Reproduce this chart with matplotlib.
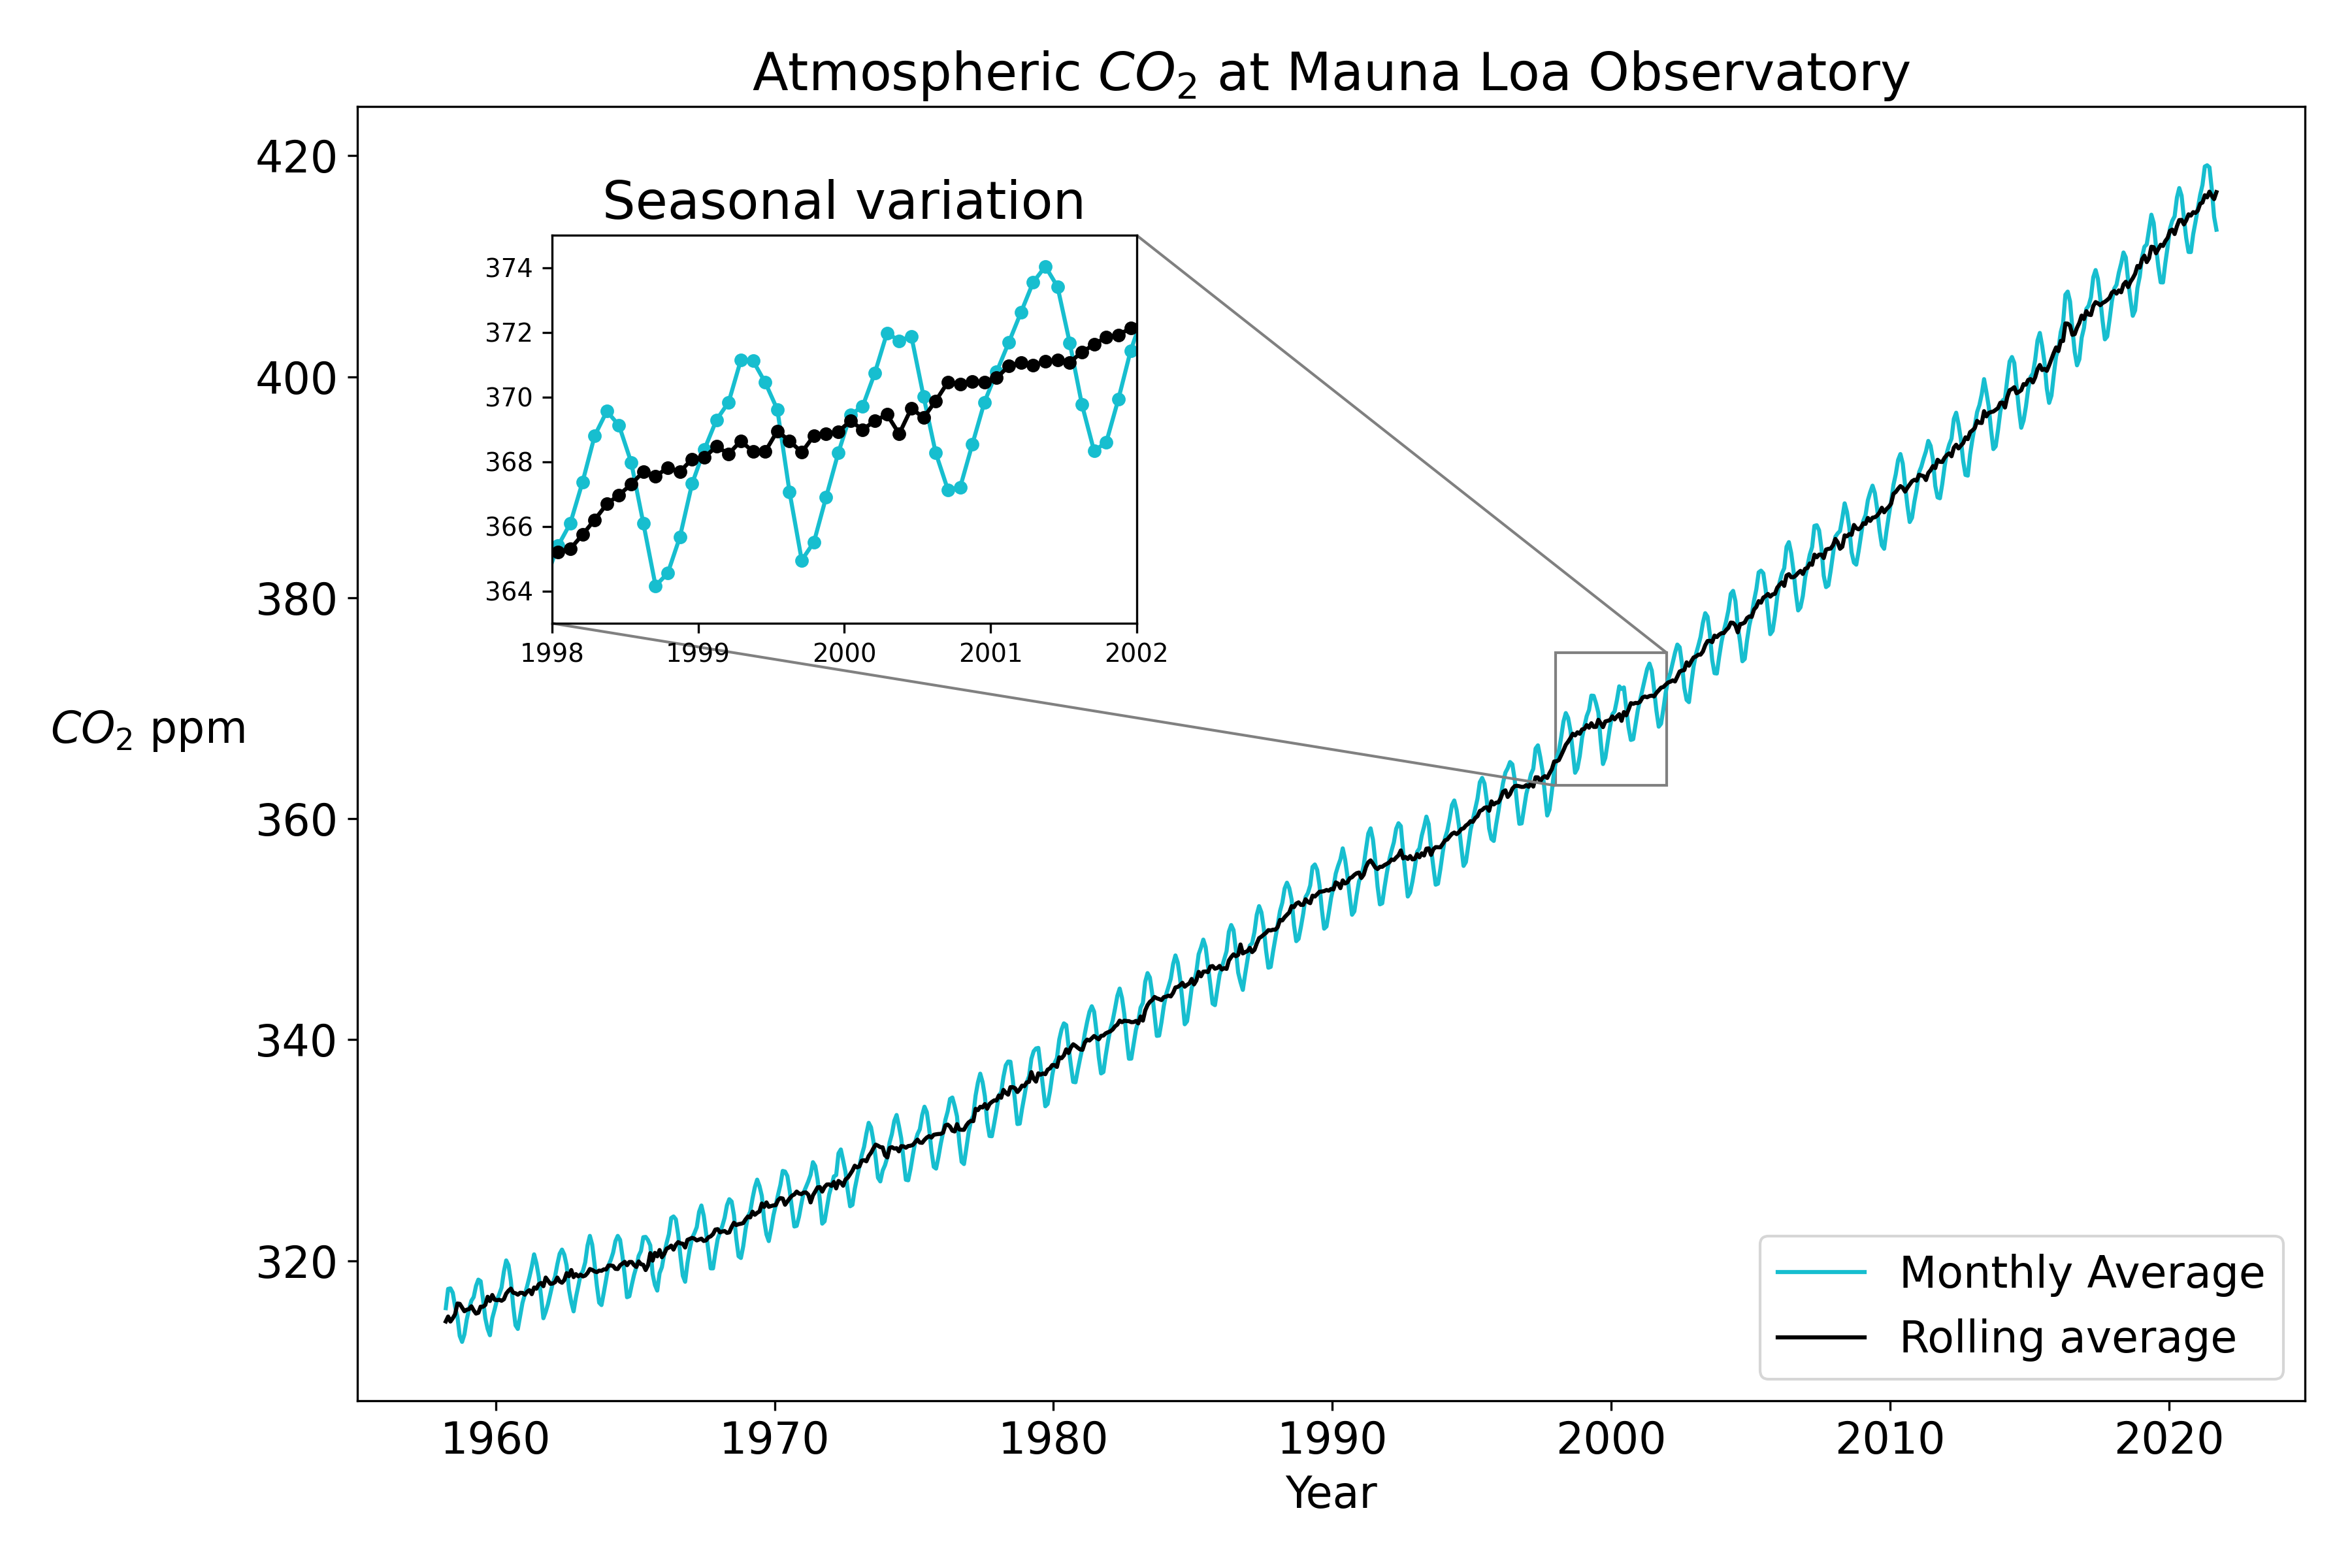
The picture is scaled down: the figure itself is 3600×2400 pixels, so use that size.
import numpy as np
import matplotlib
matplotlib.use("Agg")
import matplotlib.pyplot as plt
from mpl_toolkits.axes_grid1.inset_locator import mark_inset

# Mauna Loa CO2, monthly values starting March 1958
start_year = 1958
start_month = 3

monthly_avg = [
    315.71, 317.45, 317.50, 317.10, 315.86, 314.93, 313.20, 312.66, 313.33, 314.67,  # 1958
    315.62, 316.38, 316.71, 317.72, 318.29, 318.15, 316.54, 314.80, 313.84, 313.26, 314.80, 315.58,
    316.43, 316.97, 317.58, 319.02, 320.03, 319.59, 318.18, 315.91, 314.16, 313.83, 315.00, 316.19,
    316.93, 317.70, 318.54, 319.48, 320.58, 319.77, 318.57, 316.79, 314.80, 315.38, 316.10, 317.01,
    317.94, 318.56, 319.68, 320.63, 321.01, 320.55, 319.58, 317.40, 316.26, 315.42, 316.69, 317.69,
    318.74, 319.08, 319.86, 321.39, 322.25, 321.47, 319.74, 317.77, 316.21, 315.99, 317.12, 318.31,
    319.57, 320.07, 320.73, 321.77, 322.25, 321.89, 320.44, 318.70, 316.70, 316.79, 317.79, 318.71,
    319.44, 320.44, 320.89, 322.13, 322.16, 321.87, 321.39, 318.81, 317.81, 317.30, 318.87, 319.42,
    320.62, 321.59, 322.39, 323.87, 324.01, 323.75, 322.39, 320.37, 318.64, 318.10, 319.79, 321.08,
    322.07, 322.50, 323.04, 324.42, 325.00, 324.09, 322.55, 320.92, 319.31, 319.31, 320.72, 321.96,
    322.57, 323.15, 323.89, 325.02, 325.57, 325.36, 324.14, 322.03, 320.41, 320.25, 321.31, 322.84,
    324.00, 324.42, 325.64, 326.66, 327.34, 326.76, 325.88, 323.67, 322.38, 321.78, 322.85, 324.11,
    325.03, 325.99, 326.87, 328.13, 328.07, 327.66, 326.35, 324.69, 323.10, 323.16, 323.98, 325.13,  # 1970
    326.17, 326.68, 327.18, 327.78, 328.92, 328.57, 327.34, 325.46, 323.36, 323.57, 324.80, 326.01,
    326.77, 327.63, 327.75, 329.72, 330.07, 329.09, 328.05, 326.32, 324.93, 325.06, 326.50, 327.55,
    328.54, 329.56, 330.30, 331.50, 332.48, 332.07, 330.87, 329.31, 327.51, 327.18, 328.16, 328.64,
    329.35, 330.71, 331.48, 332.65, 333.19, 332.20, 331.07, 329.15, 327.33, 327.28, 328.31, 329.58,
    330.73, 331.46, 331.90, 333.17, 333.94, 333.45, 331.98, 329.95, 328.50, 328.34, 329.37, 330.58,
    331.59, 332.75, 333.52, 334.64, 334.77, 334.00, 333.06, 330.68, 328.95, 328.75, 330.15, 331.62,
    332.66, 333.13, 334.95, 336.13, 336.93, 336.17, 334.88, 332.56, 331.29, 331.27, 332.41, 333.60,
    334.95, 335.25, 336.66, 337.69, 338.03, 338.01, 336.41, 334.41, 332.37, 332.41, 333.75, 334.90,
    336.14, 336.69, 338.27, 338.96, 339.21, 339.26, 337.54, 335.75, 333.98, 334.19, 335.31, 336.81,
    337.90, 338.34, 340.01, 340.93, 341.48, 341.33, 339.40, 337.70, 336.19, 336.15, 337.27, 338.32,  # 1980
    339.29, 340.55, 341.61, 342.53, 343.03, 342.54, 340.78, 338.44, 336.95, 337.08, 338.58, 339.88,
    340.96, 341.73, 342.81, 343.97, 344.63, 343.79, 342.32, 340.09, 338.28, 338.29, 339.60, 340.90,
    341.68, 342.90, 343.33, 345.25, 346.03, 345.63, 344.19, 342.27, 340.35, 340.38, 341.59, 343.05,
    344.10, 344.79, 345.52, 346.84, 347.63, 346.98, 345.53, 343.55, 341.40, 341.67, 343.10, 344.70,
    345.21, 346.16, 347.74, 348.34, 349.06, 348.38, 346.72, 345.02, 343.27, 343.13, 344.49, 345.88,
    346.56, 347.28, 348.01, 349.77, 350.38, 349.93, 348.16, 346.08, 345.22, 344.51, 345.93, 347.22,
    348.52, 348.73, 349.73, 351.31, 352.09, 351.53, 350.11, 348.08, 346.52, 346.59, 347.96, 349.16,
    350.39, 351.64, 352.40, 353.69, 354.21, 353.72, 352.69, 350.40, 348.92, 349.13, 350.20, 351.41,
    352.91, 353.27, 353.96, 355.64, 355.86, 355.37, 353.99, 351.81, 350.05, 350.25, 351.49, 352.85,
    353.80, 355.04, 355.73, 356.32, 357.32, 356.34, 354.84, 353.01, 351.31, 351.62, 353.07, 354.33,  # 1990
    354.84, 355.73, 357.23, 358.66, 359.13, 358.13, 356.19, 353.85, 352.25, 352.35, 353.81, 355.12,
    356.25, 357.11, 357.86, 359.09, 359.59, 359.33, 357.01, 354.94, 352.96, 353.32, 354.32, 355.57,
    357.00, 357.31, 358.47, 359.27, 360.19, 359.52, 357.33, 355.64, 354.03, 354.12, 355.41, 356.91,
    358.24, 358.92, 359.99, 361.23, 361.65, 360.81, 359.38, 357.46, 355.73, 356.08, 357.53, 358.98,
    359.92, 360.86, 361.83, 363.30, 363.69, 363.19, 361.64, 359.12, 358.17, 357.99, 359.45, 360.68,
    362.07, 363.24, 364.17, 364.57, 365.13, 364.92, 363.55, 361.38, 359.54, 359.58, 360.89, 362.24,
    363.09, 364.03, 364.51, 366.35, 366.64, 365.59, 364.31, 362.25, 360.29, 360.82, 362.49, 364.38,
    365.40, 366.09, 367.36, 368.80, 369.56, 369.12, 367.98, 366.09, 364.16, 364.55, 365.67, 367.32,
    368.37, 369.29, 369.84, 371.14, 371.12, 370.45, 369.61, 367.06, 364.95, 365.51, 366.90, 368.27,
    369.45, 369.71, 370.74, 371.98, 371.74, 371.88, 370.02, 368.27, 367.13, 367.20, 368.53, 369.84,  # 2000
    370.78, 371.69, 372.62, 373.55, 374.04, 373.41, 371.68, 369.77, 368.33, 368.60, 369.94, 371.43,
    372.53, 373.20, 374.12, 375.02, 375.76, 375.52, 374.01, 371.85, 370.75, 370.55, 372.25, 373.79,
    374.88, 375.64, 376.45, 377.73, 378.60, 378.28, 376.70, 374.38, 373.17, 373.14, 374.66, 375.99,
    377.00, 377.87, 378.88, 380.35, 380.62, 379.69, 377.47, 376.01, 374.25, 374.46, 376.16, 377.51,
    378.46, 379.73, 380.77, 382.29, 382.45, 382.21, 380.74, 378.74, 376.70, 377.00, 378.35, 380.11,
    381.38, 382.19, 382.67, 384.61, 385.03, 384.05, 382.46, 380.41, 378.85, 379.13, 380.15, 381.82,
    382.89, 383.90, 384.58, 386.50, 386.56, 386.10, 384.50, 381.99, 380.96, 381.12, 382.45, 383.95,
    385.52, 385.82, 386.03, 387.21, 388.54, 387.76, 386.36, 384.09, 383.18, 382.99, 384.19, 385.56,
    386.94, 387.48, 388.82, 389.55, 390.14, 389.48, 388.03, 386.11, 384.74, 384.43, 386.02, 387.42,
    388.71, 390.20, 391.17, 392.46, 393.00, 392.15, 390.20, 388.35, 386.85, 387.24, 388.67, 389.79,  # 2010
    391.33, 391.86, 392.60, 393.25, 394.19, 393.74, 392.51, 390.13, 389.08, 389.00, 390.28, 391.86,
    393.12, 393.86, 394.40, 396.18, 396.74, 395.71, 394.36, 392.39, 391.11, 391.05, 392.98, 394.34,
    395.55, 396.80, 397.43, 398.41, 399.78, 398.61, 397.32, 395.20, 393.45, 393.70, 395.16, 396.84,
    397.85, 398.01, 399.77, 401.38, 401.78, 401.25, 399.10, 397.03, 395.38, 396.03, 397.28, 398.91,
    399.98, 400.28, 401.54, 403.28, 403.96, 402.80, 401.31, 398.93, 397.63, 398.29, 400.16, 401.85,
    402.52, 404.04, 404.83, 407.42, 407.70, 406.81, 404.39, 402.25, 401.03, 401.57, 403.53, 404.42,
    406.13, 406.42, 407.18, 409.00, 409.65, 408.84, 407.07, 405.07, 403.38, 403.64, 405.14, 406.81,
    407.96, 408.32, 409.41, 410.24, 411.24, 410.79, 408.71, 406.99, 405.51, 406.00, 408.02, 409.07,
    410.83, 411.75, 411.97, 413.32, 414.66, 413.92, 411.77, 409.95, 408.54, 408.53, 410.27, 411.76,
    413.40, 414.11, 414.51, 416.21, 417.07, 416.39, 414.38, 412.55, 411.29, 411.28, 412.89, 414.02,  # 2020
    415.24, 416.45, 417.36, 419.02, 419.13, 418.94, 416.96, 414.47, 413.30,  # 2021 (Jan-Sep)
]

# de-seasonalised series (labelled "Rolling average" in the chart)
rolling_avg = [
    314.51, 314.95, 314.50, 314.80, 315.16, 316.13, 316.10, 315.76, 315.43, 315.57,  # 1958
    315.62, 315.88, 315.51, 315.22, 315.29, 315.85, 315.84, 316.00, 316.74, 316.36, 316.90, 316.48,
    316.43, 316.47, 316.38, 316.52, 317.03, 317.29, 317.48, 317.11, 317.06, 316.93, 317.10, 317.09,
    316.93, 317.20, 317.34, 316.98, 317.58, 317.47, 317.87, 317.99, 317.70, 318.48, 318.20, 317.91,
    317.94, 318.06, 318.48, 318.13, 318.01, 318.25, 318.88, 318.60, 319.16, 318.52, 318.79, 318.59,
    318.74, 318.58, 318.66, 318.89, 319.25, 319.17, 319.04, 318.97, 319.11, 319.09, 319.22, 319.21,
    319.57, 319.57, 319.53, 319.27, 319.25, 319.59, 319.74, 319.90, 319.60, 319.89, 319.89, 319.61,
    319.44, 319.94, 319.69, 319.63, 319.16, 319.57, 320.69, 320.01, 320.71, 320.40, 320.97, 320.32,
    320.62, 321.09, 321.19, 321.37, 321.01, 321.45, 321.69, 321.57, 321.54, 321.20, 321.89, 321.98,
    322.07, 322.00, 321.84, 321.92, 322.00, 321.79, 321.85, 322.12, 322.21, 322.41, 322.82, 322.86,
    322.57, 322.65, 322.69, 322.52, 322.57, 323.06, 323.44, 323.23, 323.31, 323.35, 323.41, 323.74,
    324.00, 323.92, 324.44, 324.16, 324.34, 324.46, 325.18, 324.87, 325.28, 324.88, 324.95, 325.01,
    325.03, 325.49, 325.67, 325.63, 325.07, 325.36, 325.65, 325.89, 326.00, 326.26, 326.08, 326.03,  # 1970
    326.17, 326.18, 325.98, 325.28, 325.92, 326.27, 326.64, 326.66, 326.26, 326.67, 326.90, 326.91,
    326.77, 327.13, 326.55, 327.22, 327.07, 326.79, 327.35, 327.52, 327.83, 328.16, 328.60, 328.45,
    328.54, 329.06, 329.10, 329.00, 329.48, 329.77, 330.17, 330.51, 330.41, 330.28, 330.26, 329.54,
    329.35, 330.21, 330.28, 330.15, 330.19, 329.90, 330.37, 330.35, 330.23, 330.38, 330.41, 330.48,
    330.73, 330.96, 330.70, 330.67, 330.94, 331.15, 331.28, 331.15, 331.40, 331.44, 331.47, 331.48,
    331.59, 332.25, 332.32, 332.14, 331.77, 331.70, 332.36, 331.88, 331.85, 331.85, 332.25, 332.52,
    332.66, 332.63, 333.75, 333.63, 333.93, 333.87, 334.18, 333.76, 334.19, 334.37, 334.51, 334.50,
    334.95, 334.75, 335.46, 335.19, 335.03, 335.71, 335.71, 335.61, 335.27, 335.51, 335.85, 335.80,
    336.14, 336.19, 337.07, 336.46, 336.21, 336.96, 336.84, 336.95, 336.88, 337.29, 337.41, 337.71,
    337.70, 337.54, 338.41, 338.33, 338.58, 339.13, 338.80, 339.30, 339.59, 339.45, 339.27, 339.12,  # 1980
    339.09, 339.75, 340.01, 339.93, 340.13, 340.34, 340.18, 340.04, 340.35, 340.38, 340.58, 340.68,
    340.76, 340.93, 341.21, 341.37, 341.73, 341.59, 341.72, 341.69, 341.68, 341.59, 341.60, 341.70,
    341.48, 342.10, 341.73, 342.65, 343.13, 343.43, 343.59, 343.87, 343.75, 343.68, 343.59, 343.85,
    343.90, 343.99, 343.92, 344.24, 344.73, 344.78, 344.93, 345.15, 344.80, 344.97, 345.10, 345.50,
    345.01, 345.36, 346.14, 345.74, 346.16, 346.18, 346.12, 346.62, 346.67, 346.43, 346.49, 346.68,
    346.36, 346.48, 346.41, 347.17, 347.48, 347.73, 347.56, 347.68, 348.62, 347.81, 347.93, 348.02,
    348.32, 347.93, 348.13, 348.71, 349.19, 349.33, 349.51, 349.68, 349.92, 349.89, 349.96, 349.96,
    350.19, 350.84, 350.80, 351.09, 351.31, 351.52, 352.09, 352.00, 352.32, 352.43, 352.20, 352.21,
    352.71, 352.47, 352.36, 353.04, 352.96, 353.17, 353.39, 353.41, 353.45, 353.55, 353.49, 353.65,
    353.60, 354.24, 354.13, 353.72, 354.42, 354.14, 354.24, 354.61, 354.71, 354.92, 355.07, 355.13,  # 1990
    354.64, 354.93, 355.63, 356.06, 356.23, 355.93, 355.59, 355.45, 355.65, 355.65, 355.81, 355.92,
    356.05, 356.31, 356.26, 356.49, 356.69, 357.13, 356.41, 356.54, 356.36, 356.62, 356.32, 356.37,
    356.80, 356.51, 356.87, 356.67, 357.29, 357.32, 356.73, 357.24, 357.43, 357.42, 357.41, 357.71,
    358.04, 358.12, 358.39, 358.63, 358.75, 358.61, 358.78, 359.06, 359.13, 359.38, 359.53, 359.78,
    359.72, 360.06, 360.23, 360.70, 360.79, 360.99, 361.04, 360.72, 361.57, 361.29, 361.45, 361.48,
    361.87, 362.44, 362.57, 361.97, 362.23, 362.72, 362.95, 362.98, 362.94, 362.88, 362.89, 363.04,
    362.89, 363.23, 362.91, 363.75, 363.74, 363.39, 363.71, 363.85, 363.69, 364.12, 364.49, 365.18,
    365.20, 365.30, 365.74, 366.20, 366.69, 366.97, 367.30, 367.69, 367.54, 367.82, 367.69, 368.08,
    368.13, 368.47, 368.24, 368.64, 368.31, 368.31, 368.95, 368.64, 368.29, 368.80, 368.86, 368.93,
    369.26, 368.99, 369.26, 369.46, 368.86, 369.65, 369.36, 369.88, 370.46, 370.40, 370.48, 370.46,  # 2000
    370.59, 370.96, 371.06, 370.99, 371.10, 371.14, 371.07, 371.39, 371.62, 371.86, 371.92, 372.13,
    372.33, 372.40, 372.52, 372.42, 372.86, 373.32, 373.41, 373.45, 374.15, 373.85, 374.25, 374.59,
    374.68, 374.84, 374.85, 375.13, 375.70, 376.08, 376.10, 375.98, 376.57, 376.44, 376.66, 376.79,
    376.80, 377.07, 377.28, 377.75, 377.72, 377.49, 376.87, 377.61, 377.65, 377.76, 378.16, 378.31,
    378.26, 378.93, 379.17, 379.69, 379.55, 380.01, 380.14, 380.34, 380.10, 380.30, 380.35, 380.91,
    381.18, 381.39, 381.07, 382.01, 382.13, 381.85, 381.86, 382.01, 382.25, 382.43, 382.15, 382.62,
    382.69, 383.10, 382.98, 383.90, 383.66, 383.90, 383.90, 383.59, 384.36, 384.42, 384.45, 384.75,
    385.32, 385.02, 384.43, 384.61, 385.64, 385.56, 385.76, 385.69, 386.58, 386.29, 386.19, 386.36,
    386.74, 386.68, 387.22, 386.95, 387.24, 387.28, 387.43, 387.71, 388.14, 387.73, 388.02, 388.22,
    388.51, 389.40, 389.57, 389.86, 390.10, 389.95, 389.60, 389.95, 390.25, 390.54, 390.67, 390.59,  # 2010
    391.13, 391.06, 391.00, 390.65, 391.29, 391.54, 391.91, 391.73, 392.48, 392.30, 392.28, 392.66,
    392.92, 393.06, 392.80, 393.58, 393.84, 393.51, 393.76, 393.99, 394.51, 394.35, 394.98, 395.14,
    395.35, 396.00, 395.83, 395.81, 396.88, 396.41, 396.72, 396.80, 396.85, 397.00, 397.16, 397.64,
    397.65, 397.21, 398.17, 398.78, 398.88, 399.05, 398.50, 398.63, 398.78, 399.33, 399.28, 399.71,
    399.78, 399.48, 399.94, 400.68, 401.06, 400.60, 400.71, 400.53, 401.03, 401.59, 402.16, 402.65,
    402.32, 403.24, 403.23, 404.82, 404.80, 404.61, 403.79, 403.85, 404.43, 404.87, 405.53, 405.22,
    405.93, 405.62, 405.58, 406.40, 406.75, 406.64, 406.47, 406.67, 406.78, 406.94, 407.14, 407.61,
    407.76, 407.52, 407.81, 407.64, 408.34, 408.59, 408.11, 408.59, 408.91, 409.30, 410.02, 409.87,
    410.63, 410.95, 410.37, 410.72, 411.76, 411.72, 411.17, 411.55, 411.94, 411.83, 412.27, 412.56,
    413.20, 413.31, 412.91, 413.61, 414.17, 414.19, 413.78, 414.15, 414.69, 414.58, 414.89, 414.82,  # 2020
    415.04, 415.65, 415.76, 416.42, 416.23, 416.74, 416.36, 416.07, 416.70,  # 2021 (Jan-Sep)
]

inset_xticks = [1998, 1999, 2000, 2001, 2002]

# mid-month decimal dates
n = len(monthly_avg)
decimal_date = start_year + (start_month - 1 + np.arange(n) + 0.5) / 12

plt.rcParams['font.size'] = 16

fig = plt.figure(figsize=(12, 8), dpi=300)
ax = fig.add_axes([0.1519, 0.1067, 0.8281, 0.8254])
ax.plot(decimal_date, monthly_avg, color='tab:cyan', label='Monthly Average')
ax.plot(decimal_date, rolling_avg, color='black', label='Rolling average')
ax.set_title('Atmospheric $CO_2$ at Mauna Loa Observatory')
ax.set_xlabel('Year')
ax.set_ylabel('$CO_2$ ppm', rotation=0)
ax.yaxis.set_label_coords(-0.1077, 0.5)
ax.legend(loc='lower right')

# zoomed inset
axins = fig.add_axes([0.2347, 0.6025, 0.2486, 0.2474])
axins.plot(decimal_date, monthly_avg, color='tab:cyan', marker='o', markersize=4)
axins.plot(decimal_date, rolling_avg, color='black', marker='o', markersize=4)
axins.set_xlim(1998, 2002)
axins.set_ylim(363, 375)
axins.set_xticks(inset_xticks)
axins.tick_params(labelsize=9.3)
axins.set_title('Seasonal variation')
mark_inset(ax, axins, loc1=1, loc2=3, fc='none', ec='0.5')

fig.savefig('out.png', dpi=300)
